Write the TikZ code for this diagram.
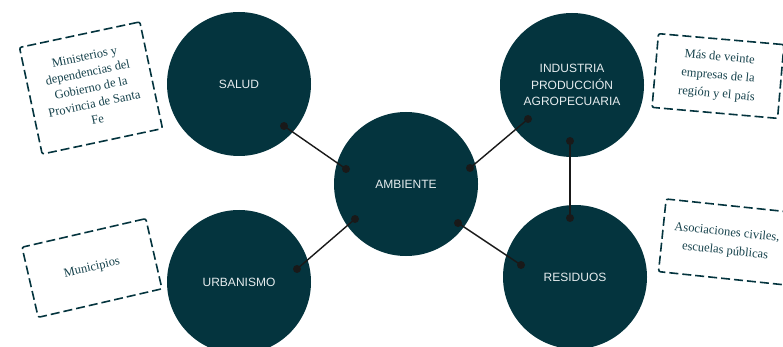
\documentclass[tikz,border=0pt]{standalone}
\usepackage{fontspec}
\setmainfont{Liberation Serif}
\setsansfont{Liberation Sans}
\definecolor{petrol}{RGB}{4,52,62}
\definecolor{petroltext}{RGB}{22,66,76}
\definecolor{paleword}{RGB}{230,236,238}
\begin{document}
\begin{tikzpicture}[
  x=1pt, y=-1pt,
  topic/.style={circle, fill=petrol, minimum size=144pt, inner sep=0pt, text=paleword, align=center,
    font=\sffamily\fontsize{12}{16.5}\selectfont},
  actor/.style={draw=petrol, line width=1.6pt, dash pattern=on 9pt off 4pt, rounded corners=2pt,
    inner sep=0pt, align=center, text=petroltext, font=\fontsize{12.5}{16}\selectfont},
  link/.style={line width=1.4pt, black!90},
  >=stealth
]
  \clip (0,0) rectangle (783,347);
  % Topics
  \node[topic] (salud) at (239,84) {SALUD};
  \node[topic] (ambiente) at (406,184) {AMBIENTE};
  \node[topic] (industria) at (572,85) {INDUSTRIA\\PRODUCCIÓN\\AGROPECUARIA};
  \node[topic] (urbanismo) at (239,282) {URBANISMO};
  \node[topic] (residuos) at (575,277) {RESIDUOS};
  % Actors
  \node[actor, rotate=12, minimum width=123pt, minimum height=109pt] (gobierno) at (91,88)
    {Ministerios y\\dependencias del\\Gobierno de la\\Provincia de Santa\\Fe};
  \node[actor, rotate=13, minimum width=127pt, minimum height=72pt] (municipios) at (92,268) {Municipios};
  \node[actor, rotate=-5, minimum width=126pt, minimum height=74pt, font=\fontsize{12.5}{18.5}\selectfont] (empresas) at (718,76)
    {Más de veinte\\empresas de la\\región y el país};
  \node[actor, rotate=-6, minimum width=128pt, minimum height=73pt, font=\fontsize{12.5}{18.5}\selectfont] (asociaciones) at (726,242)
    {Asociaciones civiles,\\escuelas públicas};
  % Link ends
  \coordinate (sA) at (284,126);
  \coordinate (aS) at (346,169);
  \coordinate (aI) at (470,168);
  \coordinate (iA) at (528,119);
  \coordinate (aU) at (355,219);
  \coordinate (uA) at (297,269);
  \coordinate (aR) at (458,223);
  \coordinate (rA) at (521,265);
  \coordinate (iR) at (570,141);
  \coordinate (rI) at (570,218);
  % Links
  \foreach \a/\b in {sA/aS, aI/iA, aU/uA, aR/rA, iR/rI} {
    \draw[link] (\a) -- (\b);
    \fill[black!90] (\a) circle (4pt) (\b) circle (4pt);
  }
\end{tikzpicture}
\end{document}
